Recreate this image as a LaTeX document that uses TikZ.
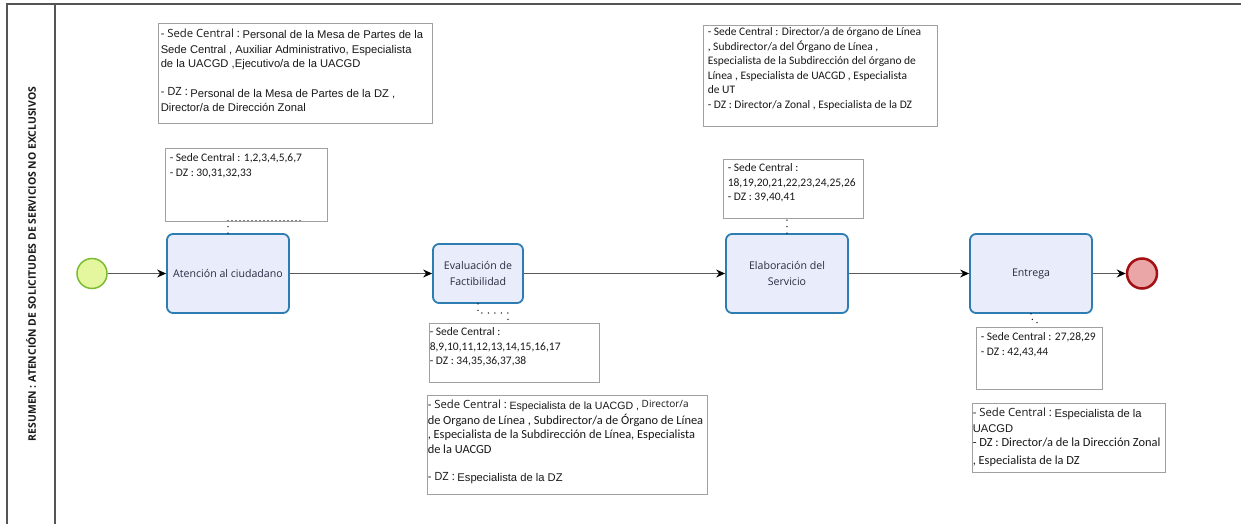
\documentclass[tikz,border=0pt]{standalone}
\usepackage{fontspec}
\setmainfont{Carlito}
\newfontfamily\arialf{Liberation Sans}
\newfontfamily\segoe{Open Sans}
\usetikzlibrary{arrows.meta}
\definecolor{taskfill}{HTML}{E9EDFB}
\definecolor{taskdraw}{HTML}{2E7DB2}
\definecolor{startfill}{HTML}{E4F79E}
\definecolor{startdraw}{HTML}{7DBB32}
\definecolor{endfill}{HTML}{EAA5A7}
\definecolor{enddraw}{HTML}{A30F12}
\definecolor{lanecol}{HTML}{555555}
\definecolor{flowcol}{HTML}{5A5A5A}
\definecolor{annotcol}{HTML}{A0A0A0}
\definecolor{tasktext}{HTML}{2A2A40}
\newcommand{\lbl}[1]{{\segoe\fontsize{11.3}{13}\selectfont\raisebox{1.5pt}{#1}}}
\newcommand{\lbls}[1]{{\segoe\fontsize{10}{13}\selectfont\raisebox{2pt}{#1}}}
\newcommand{\ar}[1]{{\arialf\fontsize{11.2}{14}\selectfont #1}}
\newcommand{\cb}{\fontsize{12.4}{14.5}\selectfont}
\tikzset{
  taskbox/.style={rectangle, rounded corners=6pt, draw=taskdraw, line width=1.8pt, fill=taskfill,
    font=\segoe\fontsize{10.6}{16}\selectfont, text=tasktext, align=center, inner sep=2pt},
  startev/.style={circle, draw=startdraw, fill=startfill, line width=1.5pt, minimum size=30pt, inner sep=0pt},
  endev/.style={circle, draw=enddraw, fill=endfill, line width=2.5pt, minimum size=30pt, inner sep=0pt},
  flow/.style={draw=flowcol, line width=1.2pt, -{Stealth[length=9pt,width=8pt,inset=3pt,black]}},
  annot/.style={rectangle, draw=annotcol, line width=0.9pt, fill=white, inner sep=0pt},
  atext/.style={anchor=north west, inner sep=0pt, align=left, font=\fontsize{11.5}{14.5}\selectfont, text=black!90},
  assoc/.style={draw=black, line width=1.4pt, dash pattern=on 0pt off 6.5pt, line cap=round},
  assocdense/.style={draw=black, line width=1.4pt, dash pattern=on 0pt off 4pt, line cap=round},
  lane/.style={draw=lanecol, line width=1.2pt}
}
\begin{document}
\begin{tikzpicture}[x=1pt,y=-1pt]
\useasboundingbox (0,0) rectangle (1241,524);
\fill[white] (0,0) rectangle (1241,524);
% lane
\draw[lane] (1241,4) -- (7,4) -- (7,524);
\draw[lane] (55,4) -- (55,524);
\node[rotate=90, font=\segoe\bfseries\fontsize{10.4}{12}\selectfont, text=black!90] (title) at (31,264)
  {RESUMEN : ATENCIÓN DE SOLICITUDES DE SERVICIOS NO EXCLUSIVOS};

% events and tasks
\node[startev] (start) at (92,273.5) {};
\node[taskbox, minimum width=122pt, minimum height=79pt] (t1) at (228,273.5) {Atención al ciudadano};
\node[taskbox, minimum width=90pt, minimum height=59pt] (t2) at (478,273.5) {Evaluación de\\Factibilidad};
\node[taskbox, minimum width=122pt, minimum height=79pt] (t3) at (787,273.5) {Elaboración del\\Servicio};
\node[taskbox, minimum width=122pt, minimum height=79pt] (t4) at (1031,273.5) {Entrega};
\node[endev] (end) at (1142,273.5) {};

\draw[flow] (start) -- (t1);
\draw[flow] (t1) -- (t2);
\draw[flow] (t2) -- (t3);
\draw[flow] (t3) -- (t4);
\draw[flow] (t4) -- (end);

% annotation boxes
\node[annot, minimum width=274pt, minimum height=100pt] (a1) at (295,73) {};
\node[annot, minimum width=162pt, minimum height=73pt] (a2) at (246,184.5) {};
\node[annot, minimum width=234pt, minimum height=101pt] (a3) at (820,75.5) {};
\node[annot, minimum width=140pt, minimum height=59pt] (a4) at (793,188.5) {};
\node[annot, minimum width=170pt, minimum height=59pt] (a5) at (514,352.5) {};
\node[annot, minimum width=280pt, minimum height=99pt] (a6) at (567,444.5) {};
\node[annot, minimum width=126pt, minimum height=62pt] (a7) at (1039,358) {};
\node[annot, minimum width=193pt, minimum height=69pt] (a8) at (1068.5,437.5) {};

\node[atext] (a1t) at ([shift={(3,6)}]a1.north west)
  {\lbl{- Sede Central :} \ar{Personal de la Mesa de Partes de la}\\
   \ar{Sede Central , Auxiliar Administrativo, Especialista}\\
   \ar{de la UACGD ,Ejecutivo/a de la UACGD}\\[15pt]
   \lbl{- DZ :} \ar{Personal de la Mesa de Partes de la DZ ,}\\
   \ar{Director/a de Dirección Zonal}};
\node[atext] (a2t) at ([shift={(5,6)}]a2.north west)
  {- Sede Central : 1,2,3,4,5,6,7\\- DZ : 30,31,32,33};
\node[atext] (a3t) at ([shift={(5,3)}]a3.north west)
  {- Sede Central : Director/a de órgano de Línea\\
   , Subdirector/a del Órgano de Línea ,\\
   Especialista de la Subdirección del órgano de\\
   Línea , Especialista de UACGD , Especialista\\
   de UT\\
   - DZ : Director/a Zonal , Especialista de la DZ};
\node[atext] (a4t) at ([shift={(5,5)}]a4.north west)
  {- Sede Central :\\18,19,20,21,22,23,24,25,26\\- DZ : 39,40,41};
\node[atext] (a5t) at ([shift={(1,5)}]a5.north west)
  {- Sede Central :\\8,9,10,11,12,13,14,15,16,17\\- DZ : 34,35,36,37,38};
\node[atext] (a6t) at ([shift={(1,5)}]a6.north west)
  {\lbl{- Sede Central :} {\arialf\fontsize{10.6}{14}\selectfont Especialista de la UACGD ,} \lbls{Director/a}\\
   {\cb de Organo de Línea , Subdirector/a de Órgano de Línea}\\
   {\cb , Especialista de la Subdirección de Línea, Especialista}\\
   {\cb de la UACGD}\\[14pt]
   \lbl{- DZ :} \ar{Especialista de la DZ}};
\node[atext] (a7t) at ([shift={(5,6)}]a7.north west)
  {- Sede Central : 27,28,29\\- DZ : 42,43,44};
\node[atext] (a8t) at ([shift={(1,5)}]a8.north west)
  {\lbl{- Sede Central :} \ar{Especialista de la}\\
   \ar{UACGD}\\
   {\cb - DZ : Director/a de la Dirección Zonal}\\[3pt]
   {\cb , Especialista de la DZ}};

% associations
\coordinate (c2) at (302,220.5);
\draw[assoc] (t1.north) -- (t1.north |- c2);
\draw[assocdense] (t1.north |- c2) -- (c2);
\coordinate (c5a) at (508,313);
\draw[assoc] (t2.south) |- (c5a) -- (c5a |- a5.north);
\draw[assoc] (t3.north) -- (t3.north |- a4.south);
\coordinate (c7) at (1031,319);
\draw[assoc] (t4.south) -- (c7) -- (1037,321) -- (1037,327);
\end{tikzpicture}
\end{document}
